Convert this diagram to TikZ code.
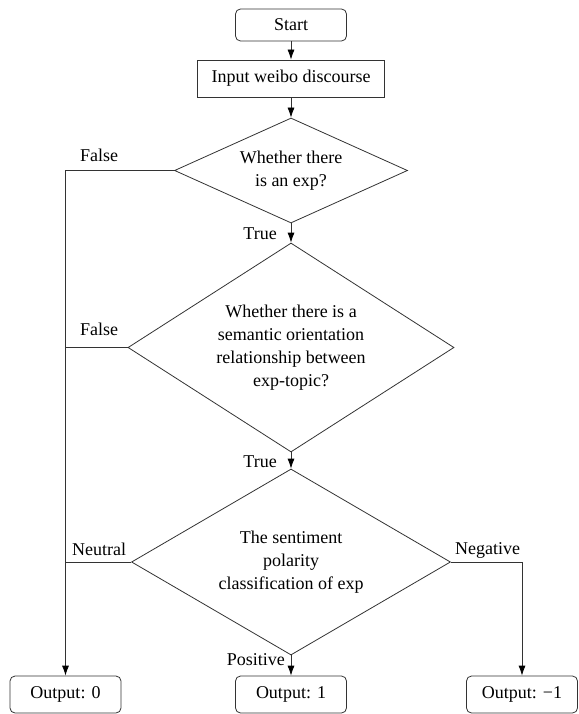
\documentclass[tikz,border=0pt]{standalone}
\usepackage{fontspec}
\setmainfont{Liberation Serif}
\usetikzlibrary{arrows.meta,shapes.geometric}
\tikzset{
  flowline/.style={draw=black!80, line width=0.8pt},
  arrowline/.style={flowline, -{Latex[length=10pt,width=7pt,color=black]}},
  termbox/.style={flowline, rounded corners=5pt, minimum width=111pt, minimum height=32pt, inner sep=0pt},
  procbox/.style={flowline, minimum width=187pt, minimum height=37pt, inner sep=0pt},
  decision/.style={flowline, diamond, inner sep=0pt, align=center},
  branchlabel/.style={inner sep=0pt},
}

\begin{document}
\begin{tikzpicture}[x=1pt, y=-1pt, font=\fontsize{18}{23}\selectfont]
  \useasboundingbox (0,0) rectangle (578,714);
  % boxes and decisions
  \node[termbox] (start) at (291,25) {Start};
  \node[procbox] (input) at (291,78.5) {Input weibo discourse};
  \node[decision, aspect=2.22, minimum width=233pt, minimum height=105pt] (expq) at (291,170.5)
    {Whether there\\is an exp?};
  \node[decision, aspect=1.56, minimum width=326pt, minimum height=209pt] (relq) at (291,347.5)
    {Whether there is a\\semantic orientation\\relationship between\\exp-topic?};
  \node[decision, aspect=1.71, minimum width=319pt, minimum height=186pt] (polq) at (291,562)
    {The sentiment\\polarity\\classification of exp};
  \node[termbox, minimum height=37pt] (out0) at (65.5,694.5) {Output: 0};
  \node[termbox, minimum height=37pt] (out1) at (291,694.5) {Output: 1};
  \node[termbox, minimum height=37pt] (out2) at (522,694.5) {Output: −1};
  \coordinate (joinL) at (65.5,170.5);

  % connectors
  \draw[arrowline] (start.south) -- (input.north);
  \draw[arrowline] (input.south) -- (expq.north);
  \draw[arrowline] (expq.south) -- (relq.north);
  \draw[arrowline] (relq.south) -- (polq.north);
  \draw[arrowline] (polq.south) -- (out1.north);
  \draw[arrowline] (expq.west) -- (joinL) -- (out0.north);
  \draw[flowline] (relq.west) -- (relq.west -| joinL);
  \draw[flowline] (polq.west) -- (polq.west -| joinL);
  \draw[arrowline] (polq.east) -| (out2.north);

  % branch labels
  \node[branchlabel, anchor=base] (falseA) at (99,161) {False};
  \node[branchlabel, anchor=base] (falseB) at (99,335) {False};
  \node[branchlabel, anchor=base east] (trueA) at (277,239) {True};
  \node[branchlabel, anchor=base east] (trueB) at (277,467) {True};
  \node[branchlabel, anchor=base west] (neutral) at (72,555) {Neutral};
  \node[branchlabel, anchor=base west] (negative) at (455,554) {Negative};
  \node[branchlabel, anchor=base east] (positive) at (285,665) {Positive};
\end{tikzpicture}
\end{document}
